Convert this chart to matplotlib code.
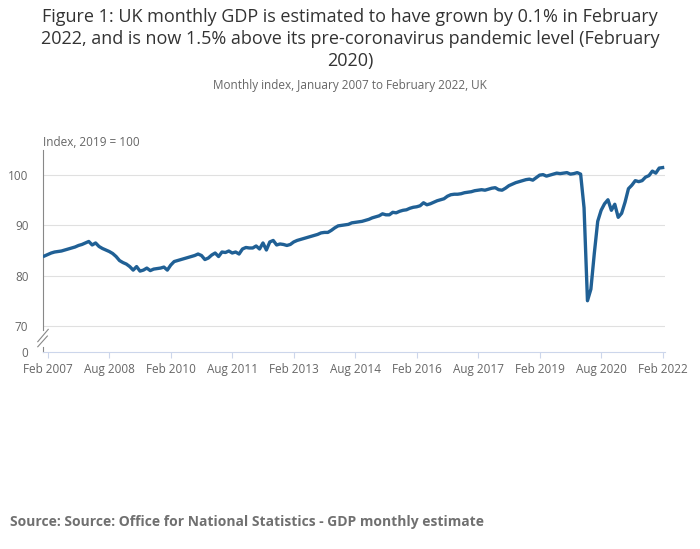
import numpy as np
import pandas as pd
import matplotlib
matplotlib.use("Agg")
import matplotlib.pyplot as plt

plt.rcParams['font.family'] = ['Open Sans', 'DejaVu Sans']

# monthly GDP index, 2019 = 100, Jan 2007 .. Feb 2022
gdp_2007 = [83.9, 84.2, 84.5, 84.7, 84.8, 84.9, 85.1, 85.3, 85.5, 85.7, 86.0, 86.2]
gdp_2008 = [86.5, 86.8, 86.1, 86.5, 85.8, 85.4, 85.1, 84.8, 84.4, 83.8, 83.0, 82.6]
gdp_2009 = [82.3, 81.8, 81.1, 81.8, 80.9, 81.1, 81.5, 81.0, 81.3, 81.4, 81.5, 81.7]
gdp_2010 = [81.1, 82.1, 82.8, 83.0, 83.2, 83.4, 83.6, 83.8, 84.0, 84.3, 84.0, 83.2]
gdp_2011 = [83.5, 84.1, 84.5, 83.8, 84.7, 84.6, 84.9, 84.5, 84.7, 84.3, 85.3, 85.6]
gdp_2012 = [85.5, 85.5, 85.9, 85.3, 86.5, 85.1, 86.7, 87.0, 86.1, 86.3, 86.2, 86.0]
gdp_2013 = [86.2, 86.7, 87.0, 87.2, 87.4, 87.6, 87.8, 88.0, 88.2, 88.5, 88.6, 88.6]
gdp_2014 = [89.0, 89.5, 89.9, 90.0, 90.1, 90.2, 90.5, 90.6, 90.7, 90.8, 91.0, 91.2]
gdp_2015 = [91.5, 91.7, 91.9, 92.3, 92.1, 92.1, 92.6, 92.5, 92.8, 93.0, 93.1, 93.4]
gdp_2016 = [93.6, 93.7, 93.9, 94.5, 94.1, 94.3, 94.6, 94.9, 95.1, 95.3, 95.8, 96.1]
gdp_2017 = [96.2, 96.2, 96.3, 96.5, 96.6, 96.7, 96.9, 97.0, 97.1, 97.0, 97.2, 97.4]
gdp_2018 = [97.5, 97.1, 97.0, 97.4, 97.9, 98.2, 98.5, 98.7, 98.9, 99.1, 99.2, 99.0]
gdp_2019 = [99.5, 100.0, 100.1, 99.8, 100.0, 100.2, 100.4, 100.3, 100.4, 100.5, 100.2, 100.3]
gdp_2020 = [100.5, 100.2, 93.5, 75.0, 77.3, 84.4, 90.8, 93.0, 94.3, 95.1, 93.0, 94.2]
gdp_2021 = [91.6, 92.4, 94.6, 97.3, 98.0, 98.9, 98.7, 98.9, 99.6, 99.9, 100.8, 100.4]
gdp_2022 = [101.4, 101.5]

gdp = (gdp_2007 + gdp_2008 + gdp_2009 + gdp_2010 + gdp_2011 + gdp_2012 + gdp_2013
       + gdp_2014 + gdp_2015 + gdp_2016 + gdp_2017 + gdp_2018 + gdp_2019
       + gdp_2020 + gdp_2021 + gdp_2022)
months = pd.date_range("2007-01-01", periods=len(gdp), freq="MS")
idx = np.arange(len(gdp))

tick_idx = idx[1::18]
tick_labels = [months[i].strftime("%b %Y") for i in tick_idx]

y_ticks = [70, 80, 90, 100]
zero_pos = 64.8   # where the "0" of the broken axis sits

grey = "#666666"
fig = plt.figure(figsize=(7, 5.49), dpi=100)
ax = fig.add_axes([43 / 700, 197 / 549, 622 / 700, 202 / 549])

ax.plot(idx, gdp, color="#206095", lw=2.4, solid_joinstyle="round", zorder=3)

ax.set_xlim(-0.4, 181.7)
ax.set_ylim(zero_pos, 105)

ax.set_yticks([zero_pos] + y_ticks)
ax.set_yticklabels(["0"] + [str(v) for v in y_ticks])
for v in y_ticks:
    ax.axhline(v, color="#e0e0e0", lw=0.8, zorder=1)
ax.tick_params(axis="y", length=0, pad=10.5, labelsize=8.5, labelcolor=grey)

ax.set_xticks(tick_idx)
ax.set_xticklabels(tick_labels)
ax.tick_params(axis="x", length=4, width=0.8, color="#ccd6eb", pad=4,
               labelsize=8.5, labelcolor=grey)

for s in ["top", "right", "left"]:
    ax.spines[s].set_visible(False)
ax.spines["bottom"].set_color("#ccd6eb")
ax.spines["bottom"].set_linewidth(0.8)

# y axis line with break marks
ax.plot([0, 0], [0.109, 1], transform=ax.transAxes, color="#888888", lw=0.8, clip_on=False)
ax.plot([0, 0], [0, 0.025], transform=ax.transAxes, color="#888888", lw=0.8, clip_on=False)
ax.plot([-0.0084, 0.0084], [0.051, 0.112], transform=ax.transAxes, color="#888888", lw=0.8, clip_on=False)
ax.plot([-0.0084, 0.0070], [0.026, 0.079], transform=ax.transAxes, color="#888888", lw=0.8, clip_on=False)

fig.text(0.5, 1 - 8.5 / 549,
         "Figure 1: UK monthly GDP is estimated to have grown by 0.1% in February\n"
         "2022, and is now 1.5% above its pre-coronavirus pandemic level (February\n"
         "2020)",
         ha="center", va="top", fontsize=13, color="#333333", linespacing=1.27)
fig.text(0.5, 1 - 86 / 549, "Monthly index, January 2007 to February 2022, UK",
         ha="center", va="center", fontsize=8.5, color=grey)
fig.text(43 / 700, 1 - 142 / 549, "Index, 2019 = 100",
         ha="left", va="center", fontsize=8.5, color=grey)
fig.text(10 / 700, 1 - 522 / 549,
         "Source: Source: Office for National Statistics - GDP monthly estimate",
         ha="left", va="center", fontsize=10, fontweight="bold", color="#707070")

fig.savefig("out.png", dpi=100)
